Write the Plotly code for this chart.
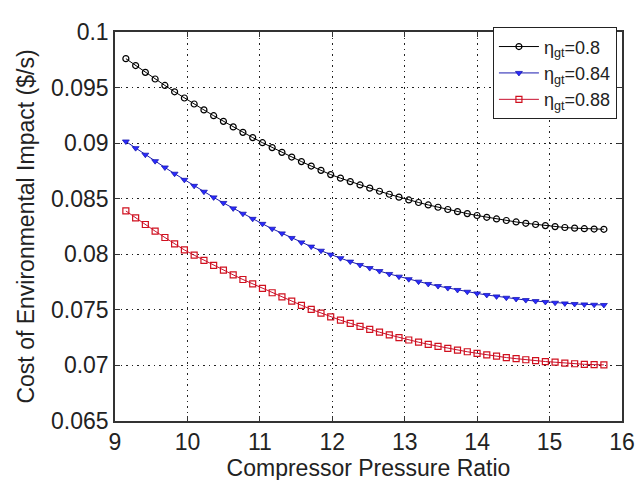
import plotly.graph_objects as go

pressure_ratio = [9.150, 9.285, 9.419, 9.554, 9.689, 9.823, 9.958, 10.093, 10.228, 10.362,
                  10.497, 10.632, 10.766, 10.901, 11.036, 11.170, 11.305, 11.440, 11.574, 11.709,
                  11.844, 11.978, 12.113, 12.248, 12.383, 12.517, 12.652, 12.787, 12.921, 13.056,
                  13.191, 13.325, 13.460, 13.595, 13.729, 13.864, 13.999, 14.133, 14.268, 14.403,
                  14.538, 14.672, 14.807, 14.942, 15.076, 15.211, 15.346, 15.480, 15.615, 15.750]

cost_080 = [0.09760, 0.09698, 0.09637, 0.09577, 0.09519, 0.09462, 0.09406, 0.09352, 0.09299, 0.09247,
            0.09196, 0.09146, 0.09097, 0.09050, 0.09004, 0.08960, 0.08917, 0.08875, 0.08834, 0.08794,
            0.08755, 0.08717, 0.08685, 0.08654, 0.08624, 0.08595, 0.08567, 0.08540, 0.08514, 0.08489,
            0.08466, 0.08444, 0.08423, 0.08403, 0.08384, 0.08366, 0.08349, 0.08333, 0.08318, 0.08304,
            0.08291, 0.08279, 0.08268, 0.08258, 0.08249, 0.08241, 0.08235, 0.08230, 0.08227, 0.08225]

cost_084 = [0.09015, 0.08955, 0.08896, 0.08838, 0.08781, 0.08725, 0.08670, 0.08616, 0.08563, 0.08512,
            0.08462, 0.08413, 0.08365, 0.08319, 0.08274, 0.08230, 0.08188, 0.08147, 0.08107, 0.08069,
            0.08032, 0.07997, 0.07965, 0.07934, 0.07904, 0.07876, 0.07849, 0.07823, 0.07799, 0.07776,
            0.07754, 0.07733, 0.07714, 0.07696, 0.07679, 0.07663, 0.07648, 0.07634, 0.07621, 0.07609,
            0.07598, 0.07588, 0.07579, 0.07571, 0.07564, 0.07558, 0.07553, 0.07549, 0.07546, 0.07544]

cost_088 = [0.08390, 0.08328, 0.08268, 0.08208, 0.08151, 0.08094, 0.08039, 0.07992, 0.07946, 0.07901,
            0.07857, 0.07815, 0.07773, 0.07733, 0.07694, 0.07654, 0.07616, 0.07578, 0.07541, 0.07505,
            0.07471, 0.07437, 0.07407, 0.07379, 0.07351, 0.07325, 0.07299, 0.07275, 0.07251, 0.07229,
            0.07209, 0.07190, 0.07172, 0.07154, 0.07138, 0.07123, 0.07109, 0.07095, 0.07083, 0.07071,
            0.07061, 0.07051, 0.07043, 0.07035, 0.07029, 0.07021, 0.07015, 0.07010, 0.07007, 0.07005]

series_names = ["η<sub>gt</sub>=0.8", "η<sub>gt</sub>=0.84", "η<sub>gt</sub>=0.88"]

x_tick_vals = [9, 10, 11, 12, 13, 14, 15, 16]
x_tick_text = ["9", "10", "11", "12", "13", "14", "15", "16"]
y_tick_vals = [0.065, 0.07, 0.075, 0.08, 0.085, 0.09, 0.095, 0.1]
y_tick_text = ["0.065", "0.07", "0.075", "0.08", "0.085", "0.09", "0.095", "0.1"]

FONT = "Liberation Sans, Arial, sans-serif"

fig = go.Figure()
fig.add_trace(go.Scatter(
    x=pressure_ratio, y=cost_080, name=series_names[0], mode="lines+markers",
    line=dict(color="black", width=1),
    marker=dict(symbol="circle-open", size=6, color="black", line=dict(width=1.2)),
))
fig.add_trace(go.Scatter(
    x=pressure_ratio, y=cost_084, name=series_names[1], mode="lines+markers",
    line=dict(color="#1a1ab0", width=1),
    marker=dict(symbol="triangle-down", size=6, color="#2a2aff", line=dict(width=0.8, color="#1a1ab0")),
))
fig.add_trace(go.Scatter(
    x=pressure_ratio, y=cost_088, name=series_names[2], mode="lines+markers",
    line=dict(color="#c8102e", width=1),
    marker=dict(symbol="square-open", size=6, color="#d0101e", line=dict(width=1.2)),
))

axis_common = dict(
    showline=True, linecolor="#333333", linewidth=1.5, mirror="ticks",
    ticks="inside", ticklen=5, tickcolor="#333333",
    showgrid=True, gridcolor="#222222", gridwidth=1.2, griddash="1.5px,4px",
    zeroline=False,
    tickfont=dict(family=FONT, size=23, color="#222222"),
)

fig.update_layout(
    width=643, height=480,
    paper_bgcolor="white", plot_bgcolor="white",
    margin=dict(l=107, r=29, t=11, b=67),
    font=dict(family=FONT, color="#222222"),
    xaxis=dict(range=[9, 16], tickvals=x_tick_vals, ticktext=x_tick_text,
               title=dict(text="Compressor Pressure Ratio", font=dict(family=FONT, size=23), standoff=2),
               **axis_common),
    yaxis=dict(range=[0.065, 0.1], tickvals=y_tick_vals, ticktext=y_tick_text,
               title=dict(text="Cost of Environmental Impact ($/s)", font=dict(family=FONT, size=23), standoff=10),
               **axis_common),
    legend=dict(x=0.99, y=1.012, xanchor="right", yanchor="top",
                bgcolor="white", bordercolor="#222222", borderwidth=1,
                font=dict(family=FONT, size=18, color="#222222"),
                itemwidth=40, tracegroupgap=4),
    showlegend=True,
)

fig.write_html("out.html")
